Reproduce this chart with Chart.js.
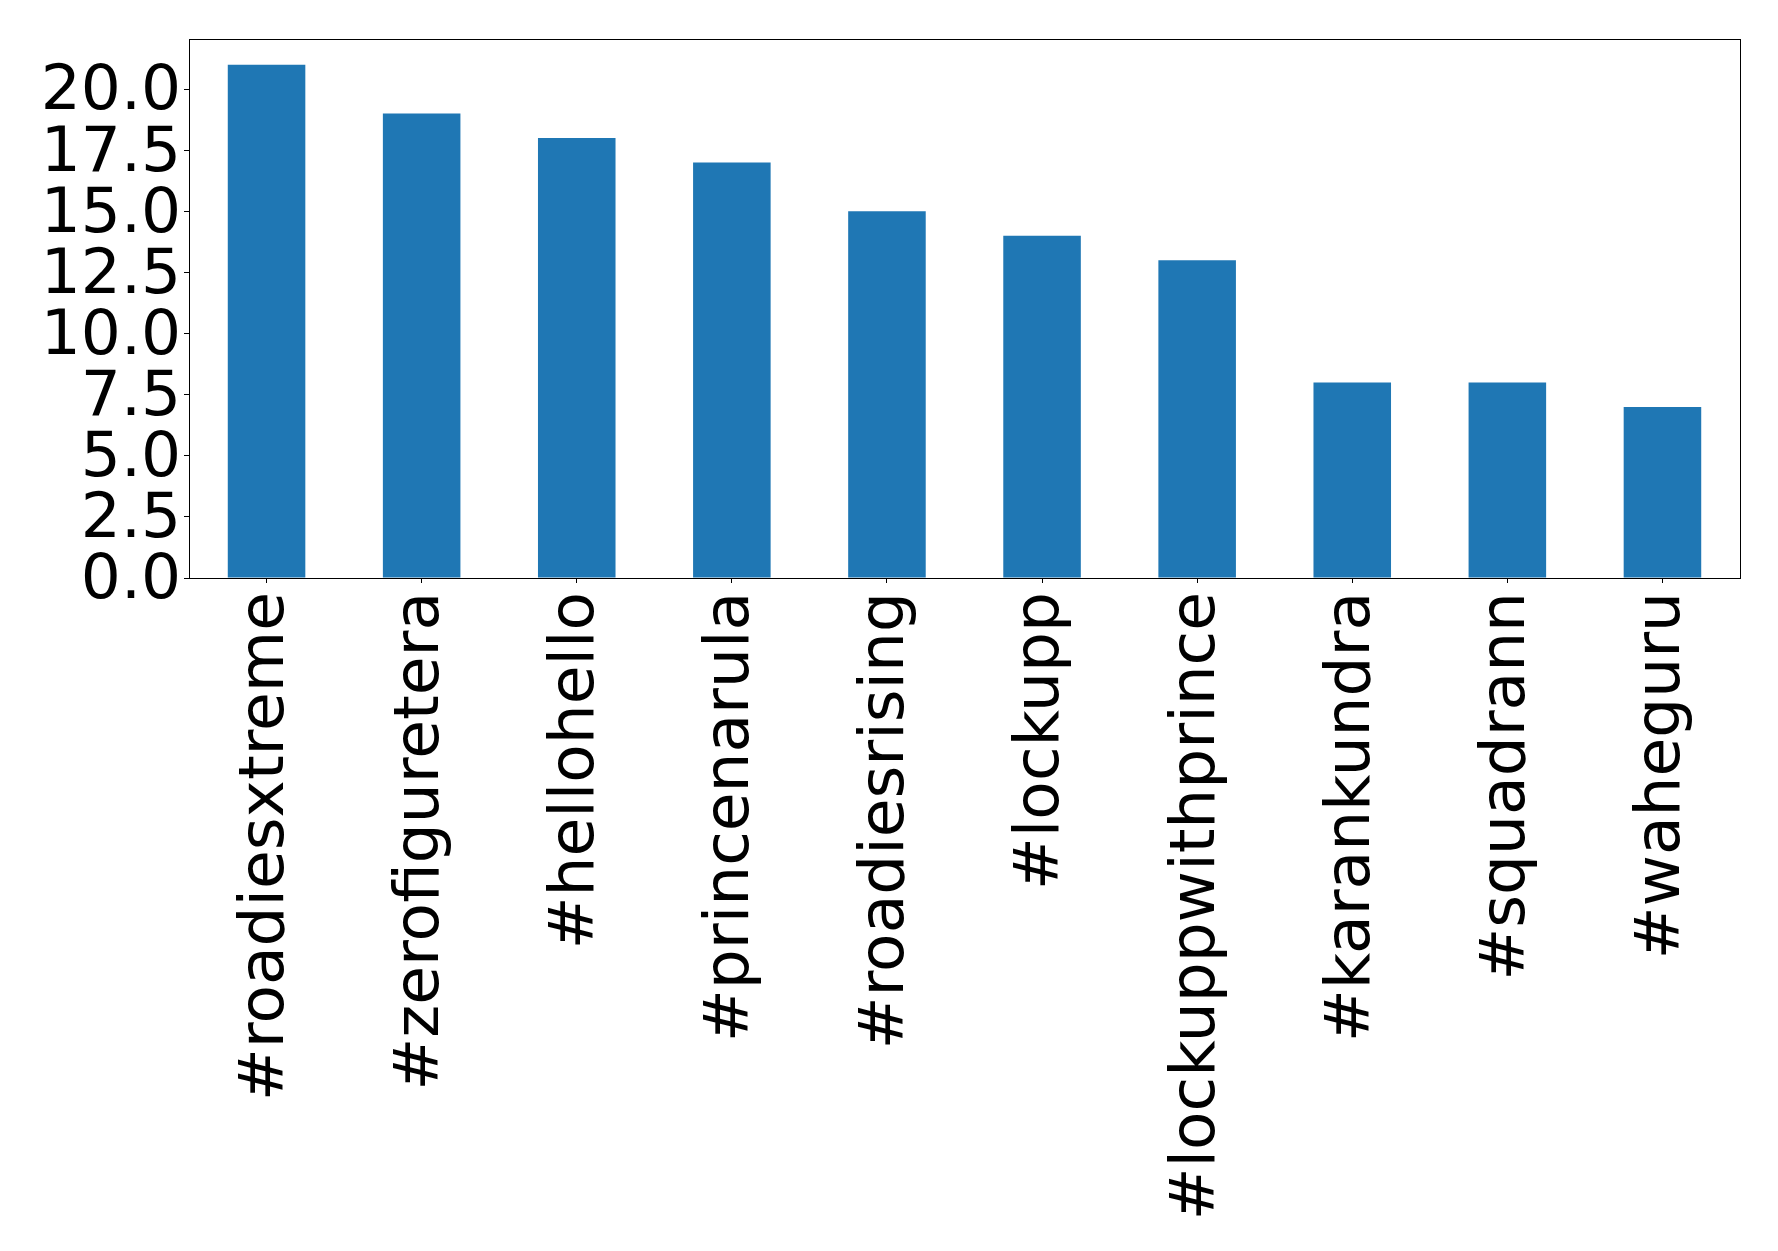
<!DOCTYPE html>
<html>
<head>
<meta charset="utf-8">
<script src="https://cdn.jsdelivr.net/npm/chart.js@4.4.1/dist/chart.umd.min.js"></script>
<style>
    html, body { margin: 0; padding: 0; background: #ffffff; }
    #wrap { width: 1778px; height: 1251px; }
</style>
</head>
<body>
<div id="wrap"><canvas id="hashtagChart" width="1778" height="1251"></canvas></div>
<script>
// hashtag counts
const hashtags = ["#roadiesxtreme", "#zerofiguretera", "#hellohello", "#princenarula", "#roadiesrising",
    "#lockupp", "#lockuppwithprince", "#karankundra", "#squadrann", "#waheguru"];
const counts = [21, 19, 18, 17, 15, 14, 13, 8, 8, 7];
const yMax = 22.05;
const yStep = 2.5;

// matplotlib-style box around the plot area
const frameBox = {
    id: "frameBox",
    afterDraw(chart) {
        let a = chart.chartArea;
        let ctx = chart.ctx;
        ctx.save();
        ctx.strokeStyle = "#000000";
        ctx.lineWidth = 1;
        ctx.strokeRect(Math.round(a.left) + 0.5, Math.round(a.top) + 0.5,
            Math.round(a.right - a.left), Math.round(a.bottom - a.top));
        ctx.restore();
    }
};

document.addEventListener("DOMContentLoaded", function () {
    let ctx = document.getElementById("hashtagChart").getContext("2d");
    new Chart(ctx, {
        type: "bar",
        data: {
            labels: hashtags,
            datasets: [{
                data: counts,
                backgroundColor: "#1f77b4",
                borderWidth: 0,
                categoryPercentage: 1.0,
                barPercentage: 0.5
            }]
        },
        options: {
            responsive: false,
            animation: false,
            devicePixelRatio: 1,
            layout: { padding: { top: 0, right: 38, left: 0, bottom: 0 } },
            plugins: {
                legend: { display: false },
                tooltip: { enabled: false }
            },
            scales: {
                x: {
                    afterFit: scale => {
                        scale.height = 673;
                        scale.paddingLeft = 0;
                        scale.paddingRight = 0;
                    },
                    grid: { offset: false, drawOnChartArea: false, drawTicks: true, tickLength: 5, color: "#000000" },
                    border: { display: true, color: "#000000" },
                    ticks: {
                        autoSkip: false,
                        minRotation: 90,
                        maxRotation: 90,
                        padding: 9,
                        color: "#000000",
                        font: { family: "DejaVu Sans", size: 63 }
                    }
                },
                y: {
                    min: 0,
                    max: yMax,
                    afterFit: scale => {
                        scale.width = 189;
                        scale.paddingTop = 39;
                        scale.paddingBottom = 0;
                    },
                    grid: { drawOnChartArea: false, drawTicks: true, tickLength: 5, color: "#000000" },
                    border: { display: true, color: "#000000" },
                    ticks: {
                        stepSize: yStep,
                        autoSkip: false,
                        includeBounds: false,
                        padding: 3,
                        labelOffset: 4,
                        color: "#000000",
                        font: { family: "DejaVu Sans", size: 63 },
                        callback: value => value.toFixed(1)
                    }
                }
            }
        },
        plugins: [frameBox]
    });
});
</script>
</body>
</html>
